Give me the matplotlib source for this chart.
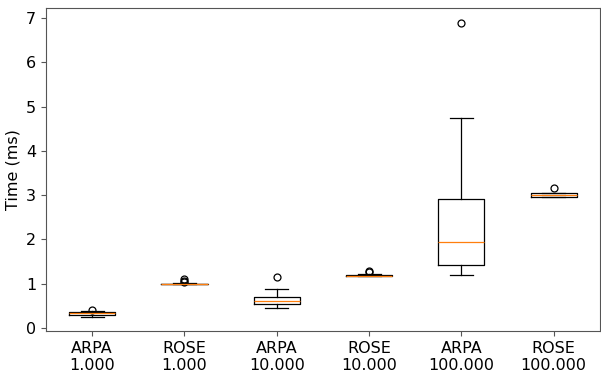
import matplotlib
matplotlib.use("Agg")
import matplotlib.pyplot as plt

labels = ["ARPA\n1.000", "ROSE\n1.000", "ARPA\n10.000", "ROSE\n10.000", "ARPA\n100.000", "ROSE\n100.000"]
whislo = [0.26, 0.99, 0.45, 1.165, 1.20, 2.96]
q1 = [0.29, 0.995, 0.54, 1.17, 1.43, 2.97]
med = [0.33, 1.00, 0.62, 1.18, 1.94, 3.01]
q3 = [0.37, 1.005, 0.71, 1.20, 2.91, 3.04]
whishi = [0.39, 1.01, 0.88, 1.21, 4.75, 3.06]
fliers = [[0.41], [1.03, 1.06, 1.10], [1.15], [1.26, 1.29], [6.90], [3.17]]

plt.rcParams['font.size'] = 11.5
fig, ax = plt.subplots(figsize=(6.01, 3.73), dpi=100)
stats = []
for i in range(len(labels)):
    stats.append(dict(label=labels[i], whislo=whislo[i], q1=q1[i], med=med[i],
                      q3=q3[i], whishi=whishi[i], fliers=fliers[i]))
ax.bxp(stats, positions=range(1, len(labels) + 1),
       boxprops=dict(linewidth=0.9), whiskerprops=dict(linewidth=0.9),
       capprops=dict(linewidth=0.9), medianprops=dict(linewidth=0.9),
       flierprops=dict(markersize=5, markeredgewidth=0.9))
ax.set_ylabel("Time (ms)")
ax.set_yticks(range(0, 8))
for s in ax.spines.values():
    s.set_color("#555555")
ax.tick_params(color="#555555")
fig.subplots_adjust(left=0.0765, right=0.998, top=0.979, bottom=0.112)
fig.savefig("out.png", dpi=100)
